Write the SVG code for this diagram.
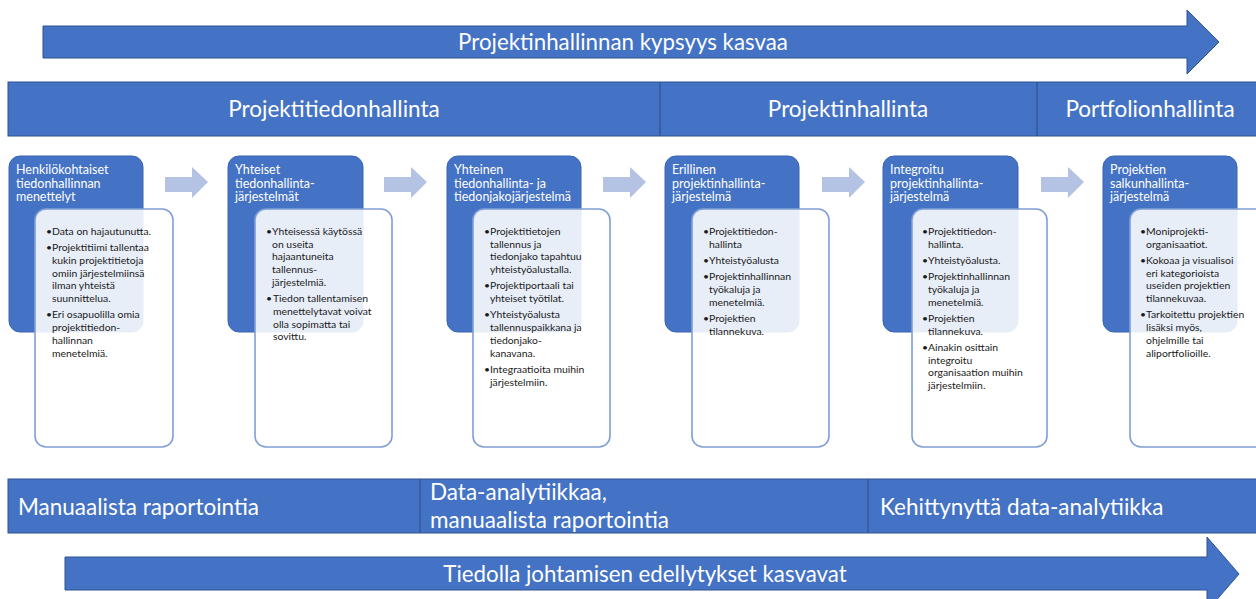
<svg xmlns="http://www.w3.org/2000/svg" width="1256" height="599" viewBox="0 0 1256 599">
<style>
.band{fill:#4472C4;stroke:#2F528F;stroke-width:1}
.div{stroke:#2F528F;stroke-width:1.2}
.big{font-family:Lato,"Liberation Sans",sans-serif;font-size:22.5px;fill:#fff}
.arr{font-family:Lato,"Liberation Sans",sans-serif;font-size:22.3px;fill:#fff}
.head{fill:#4472C4;stroke:#3A64B0;stroke-width:1}
.body{fill:#fff;fill-opacity:0.88;stroke:#7F9FD6;stroke-width:1.6}
.ht{font-family:Lato,"Liberation Sans",sans-serif;font-size:12.5px;fill:#fff}
.bt{font-family:Lato,"Liberation Sans",sans-serif;font-size:10.4px;fill:#1a1a1a}
.chev{fill:#B4C3E4}
</style>
<rect width="1256" height="599" fill="#fff"/>
<g id="maturity-arrow">
<polygon class="band" points="43,26 1187,26 1187,10 1219,42 1187,74 1187,58 43,58"/>
<text class="arr" x="623" y="50" text-anchor="middle">Projektinhallinnan kypsyys kasvaa</text>
</g>
<g id="phase-band">
<rect class="band" x="8" y="82" width="1252" height="54"/>
<line class="div" x1="660" y1="82" x2="660" y2="136"/>
<line class="div" x1="1037" y1="82" x2="1037" y2="136"/>
<text class="big" x="334" y="117" text-anchor="middle">Projektitiedonhallinta</text>
<text class="big" x="848" y="117" text-anchor="middle">Projektinhallinta</text>
<text class="big" x="1150" y="117" text-anchor="middle">Portfolionhallinta</text>
</g>
<g id="connectors">
<polygon class="chev" points="165,177 192,177 192,167 208,182 192,198 192,192 165,192"/>
<polygon class="chev" points="384,177 411,177 411,167 427,182 411,198 411,192 384,192"/>
<polygon class="chev" points="603,177 630,177 630,167 646,182 630,198 630,192 603,192"/>
<polygon class="chev" points="822,177 849,177 849,167 865,182 849,198 849,192 822,192"/>
<polygon class="chev" points="1041,177 1068,177 1068,167 1084,182 1068,198 1068,192 1041,192"/>
</g>
<g id="card1">
<rect class="head" x="9" y="156" width="134" height="176" rx="11"/>
<text class="ht"><tspan x="16" y="174">Henkilökohtaiset</tspan><tspan x="16" y="187.5">tiedonhallinnan</tspan><tspan x="16" y="201">menettelyt</tspan></text>
<rect class="body" x="35" y="209" width="138" height="238" rx="11"/>
<text class="bt"><tspan x="46" y="235">•</tspan><tspan x="52">Data on hajautunutta.</tspan><tspan x="46" dy="16.3">•</tspan><tspan x="52">Projektitiimi tallentaa</tspan><tspan x="52" dy="12.7">kukin projektitietoja</tspan><tspan x="52" dy="12.7">omiin järjestelmiinsä</tspan><tspan x="52" dy="12.7">ilman yhteistä</tspan><tspan x="52" dy="12.7">suunnittelua.</tspan><tspan x="46" dy="16.3">•</tspan><tspan x="52">Eri osapuolilla omia</tspan><tspan x="52" dy="12.7">projektitiedon-</tspan><tspan x="52" dy="12.7">hallinnan</tspan><tspan x="52" dy="12.7">menetelmiä.</tspan></text>
</g>
<g id="card2">
<rect class="head" x="228" y="156" width="135" height="176" rx="11"/>
<text class="ht"><tspan x="235" y="174">Yhteiset</tspan><tspan x="235" y="187.5">tiedonhallinta-</tspan><tspan x="235" y="201">järjestelmät</tspan></text>
<rect class="body" x="255" y="209" width="137" height="238" rx="11"/>
<text class="bt"><tspan x="266" y="235">•</tspan><tspan x="272">Yhteisessä käytössä</tspan><tspan x="272" dy="12.7">on useita</tspan><tspan x="272" dy="12.7">hajaantuneita</tspan><tspan x="272" dy="12.7">tallennus-</tspan><tspan x="272" dy="12.7">järjestelmiä.</tspan><tspan x="266" dy="16.3">•</tspan><tspan x="273">Tiedon tallentamisen</tspan><tspan x="273" dy="12.7">menettelytavat voivat</tspan><tspan x="273" dy="12.7">olla sopimatta tai</tspan><tspan x="273" dy="12.7">sovittu.</tspan></text>
</g>
<g id="card3">
<rect class="head" x="447" y="156" width="134" height="176" rx="11"/>
<text class="ht"><tspan x="454" y="174">Yhteinen</tspan><tspan x="454" y="187.5">tiedonhallinta- ja</tspan><tspan x="454" y="201">tiedonjakojärjestelmä</tspan></text>
<rect class="body" x="473" y="209" width="137" height="238" rx="11"/>
<text class="bt"><tspan x="484" y="235">•</tspan><tspan x="490">Projektitietojen</tspan><tspan x="490" dy="12.7">tallennus ja</tspan><tspan x="490" dy="12.7">tiedonjako tapahtuu</tspan><tspan x="490" dy="12.7">yhteistyöalustalla.</tspan><tspan x="484" dy="16.3">•</tspan><tspan x="490">Projektiportaali tai</tspan><tspan x="490" dy="12.7">yhteiset työtilat.</tspan><tspan x="484" dy="16.3">•</tspan><tspan x="490">Yhteistyöalusta</tspan><tspan x="490" dy="12.7">tallennuspaikkana ja</tspan><tspan x="490" dy="12.7">tiedonjako-</tspan><tspan x="490" dy="12.7">kanavana.</tspan><tspan x="484" dy="16.3">•</tspan><tspan x="490">Integraatioita muihin</tspan><tspan x="490" dy="12.7">järjestelmiin.</tspan></text>
</g>
<g id="card4">
<rect class="head" x="665" y="156" width="134" height="176" rx="11"/>
<text class="ht"><tspan x="672" y="174">Erillinen</tspan><tspan x="672" y="187.5">projektinhallinta-</tspan><tspan x="672" y="201">järjestelmä</tspan></text>
<rect class="body" x="692" y="209" width="137" height="238" rx="11"/>
<text class="bt"><tspan x="703" y="235">•</tspan><tspan x="709">Projektitiedon-</tspan><tspan x="709" dy="12.7">hallinta</tspan><tspan x="703" dy="16.3">•</tspan><tspan x="709">Yhteistyöalusta</tspan><tspan x="703" dy="16.3">•</tspan><tspan x="709">Projektinhallinnan</tspan><tspan x="709" dy="12.7">työkaluja ja</tspan><tspan x="709" dy="12.7">menetelmiä.</tspan><tspan x="703" dy="16.3">•</tspan><tspan x="709">Projektien</tspan><tspan x="709" dy="12.7">tilannekuva.</tspan></text>
</g>
<g id="card5">
<rect class="head" x="883" y="156" width="135" height="176" rx="11"/>
<text class="ht"><tspan x="890" y="174">Integroitu</tspan><tspan x="890" y="187.5">projektinhallinta-</tspan><tspan x="890" y="201">järjestelmä</tspan></text>
<rect class="body" x="912" y="209" width="135" height="238" rx="11"/>
<text class="bt"><tspan x="922" y="235">•</tspan><tspan x="928">Projektitiedon-</tspan><tspan x="928" dy="12.7">hallinta.</tspan><tspan x="922" dy="16.3">•</tspan><tspan x="928">Yhteistyöalusta.</tspan><tspan x="922" dy="16.3">•</tspan><tspan x="928">Projektinhallinnan</tspan><tspan x="928" dy="12.7">työkaluja ja</tspan><tspan x="928" dy="12.7">menetelmiä.</tspan><tspan x="922" dy="16.3">•</tspan><tspan x="928">Projektien</tspan><tspan x="928" dy="12.7">tilannekuva.</tspan><tspan x="922" dy="16.3">•</tspan><tspan x="928">Ainakin osittain</tspan><tspan x="928" dy="12.7">integroitu</tspan><tspan x="928" dy="12.7">organisaation muihin</tspan><tspan x="928" dy="12.7">järjestelmiin.</tspan></text>
</g>
<g id="card6">
<rect class="head" x="1103" y="156" width="134" height="176" rx="11"/>
<text class="ht"><tspan x="1110" y="174">Projektien</tspan><tspan x="1110" y="187.5">salkunhallinta-</tspan><tspan x="1110" y="201">järjestelmä</tspan></text>
<rect class="body" x="1130" y="209" width="140" height="238" rx="11"/>
<text class="bt"><tspan x="1140" y="235">•</tspan><tspan x="1146">Moniprojekti-</tspan><tspan x="1146" dy="12.7">organisaatiot.</tspan><tspan x="1140" dy="16.3">•</tspan><tspan x="1146">Kokoaa ja visualisoi</tspan><tspan x="1146" dy="12.7">eri kategorioista</tspan><tspan x="1146" dy="12.7">useiden projektien</tspan><tspan x="1146" dy="12.7">tilannekuvaa.</tspan><tspan x="1140" dy="16.3">•</tspan><tspan x="1146">Tarkoitettu projektien</tspan><tspan x="1146" dy="12.7">lisäksi myös,</tspan><tspan x="1146" dy="12.7">ohjelmille tai</tspan><tspan x="1146" dy="12.7">aliportfolioille.</tspan></text>
</g>
<g id="reporting-band">
<rect class="band" x="8" y="479" width="1252" height="54"/>
<line class="div" x1="420" y1="479" x2="420" y2="533"/>
<line class="div" x1="868" y1="479" x2="868" y2="533"/>
<text class="big" x="18" y="515">Manuaalista raportointia</text>
<text class="big" x="430" y="500">Data-analytiikkaa,</text>
<text class="big" x="430" y="528">manuaalista raportointia</text>
<text class="big" x="880" y="515">Kehittynyttä data-analytiikka</text>
</g>
<g id="knowledge-arrow">
<polygon class="band" points="65,557 1207,557 1207,537 1239,574 1207,611 1207,590 65,590"/>
<text class="arr" x="645" y="582" text-anchor="middle">Tiedolla johtamisen edellytykset kasvavat</text>
</g>
</svg>
